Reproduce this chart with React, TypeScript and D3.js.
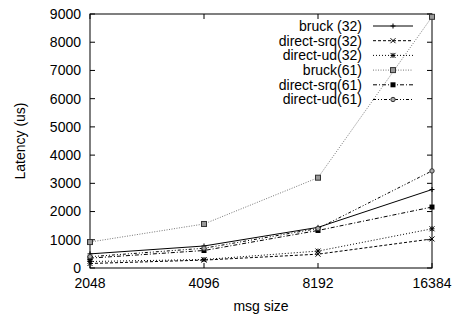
import * as d3 from 'd3';
import React, { useEffect, useRef } from 'react';

// message sizes (x) and latency series (us)
const msgSizes = [2048, 4096, 8192, 16384];
const seriesNames = ['bruck (32)', 'direct-srq(32)', 'direct-ud(32)', 'bruck(61)', 'direct-srq(61)', 'direct-ud(61)'];
const bruck32 = [500, 780, 1440, 2780];
const directSrq32 = [160, 280, 490, 1030];
const directUd32 = [230, 300, 600, 1390];
const bruck61 = [920, 1560, 3200, 8900];
const directSrq61 = [350, 620, 1330, 2160];
const directUd61 = [400, 700, 1400, 3440];
const yTicks = [0, 1000, 2000, 3000, 4000, 5000, 6000, 7000, 8000, 9000];

const App = () => {
    const svgRef = useRef<SVGSVGElement>(null);

    useEffect(() => {
        const width = 456;
        const height = 318;
        const margin = { top: 14, right: 24, bottom: 50, left: 90 };
        const font = 'Liberation Sans, Arial, Helvetica, sans-serif';

        const allSeries = [bruck32, directSrq32, directUd32, bruck61, directSrq61, directUd61];
        const styles = [
            { dash: null, color: '#000', marker: 'plus' },
            { dash: '3,2', color: '#000', marker: 'cross' },
            { dash: '1,2', color: '#000', marker: 'star' },
            { dash: '1,1.5', color: '#777', marker: 'boxed' },
            { dash: '4,2,1,2', color: '#000', marker: 'square' },
            { dash: '3,2,1,2,1,2', color: '#000', marker: 'circle' },
        ];

        const xScale = d3.scaleLog().base(2)
            .domain([2048, 16384])
            .range([margin.left, width - margin.right]);
        const yScale = d3.scaleLinear()
            .domain([0, 9000])
            .range([height - margin.bottom, margin.top]);

        const svg = d3.select(svgRef.current);
        svg.selectAll('*').remove();
        svg.attr('width', width).attr('height', height)
            .style('display', 'block')
            .style('position', 'absolute')
            .style('left', '0px')
            .style('top', '0px')
            .style('font-family', font);

        svg.append('rect')
            .attr('width', width).attr('height', height).attr('fill', '#fff');

        const x0 = margin.left, x1 = width - margin.right;
        const y0 = height - margin.bottom, y1 = margin.top;

        // frame
        svg.append('rect')
            .attr('x', x0).attr('y', y1)
            .attr('width', x1 - x0).attr('height', y0 - y1)
            .attr('fill', 'none').attr('stroke', '#000').attr('stroke-width', 1);

        // ticks (inward, mirrored)
        const tickLen = 5;
        const tg = svg.append('g').attr('stroke', '#000').attr('stroke-width', 1);
        yTicks.forEach(t => {
            const y = yScale(t);
            tg.append('line').attr('x1', x0).attr('x2', x0 + tickLen).attr('y1', y).attr('y2', y);
            tg.append('line').attr('x1', x1).attr('x2', x1 - tickLen).attr('y1', y).attr('y2', y);
        });
        msgSizes.forEach(t => {
            const x = xScale(t);
            tg.append('line').attr('x1', x).attr('x2', x).attr('y1', y0).attr('y2', y0 - tickLen);
            tg.append('line').attr('x1', x).attr('x2', x).attr('y1', y1).attr('y2', y1 + tickLen);
        });

        // tick labels
        svg.append('g').selectAll('text')
            .data(yTicks).enter().append('text')
            .attr('x', x0 - 9)
            .attr('y', d => yScale(d))
            .attr('dy', '0.35em')
            .attr('text-anchor', 'end')
            .style('font-size', '14px')
            .text(d => d);
        svg.append('g').selectAll('text')
            .data(msgSizes).enter().append('text')
            .attr('x', d => xScale(d))
            .attr('y', y0 + 20)
            .attr('text-anchor', 'middle')
            .style('font-size', '14px')
            .text(d => d);

        // axis titles
        svg.append('text')
            .attr('x', (x0 + x1) / 2)
            .attr('y', height - 7)
            .attr('text-anchor', 'middle')
            .style('font-size', '14px')
            .text('msg size');
        svg.append('text')
            .attr('transform', `translate(25,${(y0 + y1) / 2}) rotate(-90)`)
            .attr('text-anchor', 'middle')
            .style('font-size', '14px')
            .text('Latency (us)');

        const drawMarker = (g, kind, cx, cy, color) => {
            const s = 2.5;
            if (kind === 'plus') {
                g.append('path').attr('d', `M${cx - s},${cy}H${cx + s}M${cx},${cy - s}V${cy + s}`)
                    .attr('stroke', color).attr('fill', 'none');
            } else if (kind === 'cross') {
                g.append('path').attr('d', `M${cx - s},${cy - s}L${cx + s},${cy + s}M${cx - s},${cy + s}L${cx + s},${cy - s}`)
                    .attr('stroke', color).attr('fill', 'none');
            } else if (kind === 'star') {
                g.append('path').attr('d', `M${cx - s},${cy}H${cx + s}M${cx},${cy - s}V${cy + s}M${cx - s},${cy - s}L${cx + s},${cy + s}M${cx - s},${cy + s}L${cx + s},${cy - s}`)
                    .attr('stroke', color).attr('fill', 'none');
            } else if (kind === 'boxed') {
                g.append('rect').attr('x', cx - s).attr('y', cy - s).attr('width', 2 * s).attr('height', 2 * s)
                    .attr('fill', '#999').attr('stroke', '#333');
            } else if (kind === 'square') {
                g.append('rect').attr('x', cx - s).attr('y', cy - s).attr('width', 2 * s).attr('height', 2 * s)
                    .attr('fill', '#000');
            } else if (kind === 'circle') {
                g.append('circle').attr('cx', cx).attr('cy', cy).attr('r', s - 0.3)
                    .attr('fill', '#aaa').attr('stroke', '#333');
            }
        };

        const line = d3.line<number>()
            .x((_, i) => xScale(msgSizes[i]))
            .y(d => yScale(d));

        allSeries.forEach((vals, i) => {
            const st = styles[i];
            const g = svg.append('g');
            g.append('path')
                .datum(vals)
                .attr('fill', 'none')
                .attr('stroke', st.color)
                .attr('stroke-width', 1)
                .attr('stroke-dasharray', st.dash)
                .attr('d', line);
            vals.forEach((v, j) => drawMarker(g, st.marker, xScale(msgSizes[j]), yScale(v), '#000'));
        });

        // legend
        const lg = svg.append('g');
        seriesNames.forEach((name, i) => {
            const y = 26 + i * 14.7;
            const st = styles[i];
            lg.append('text')
                .attr('x', 362).attr('y', y).attr('dy', '0.35em')
                .attr('text-anchor', 'end')
                .style('font-size', '14px')
                .text(name);
            lg.append('line')
                .attr('x1', 373).attr('x2', 413).attr('y1', y).attr('y2', y)
                .attr('stroke', st.color).attr('stroke-width', 1)
                .attr('stroke-dasharray', st.dash);
            drawMarker(lg, st.marker, 393, y, '#000');
        });
    }, []);

    return <svg ref={svgRef}></svg>;
};

export default App;
